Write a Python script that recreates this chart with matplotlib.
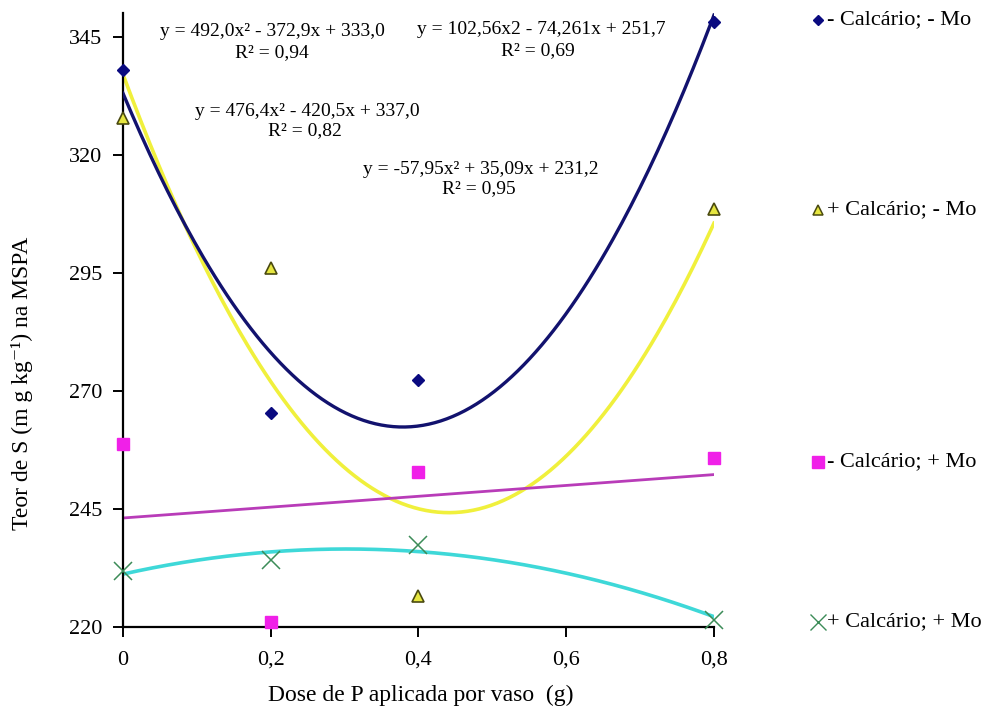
import numpy as np
import matplotlib
matplotlib.use("Agg")
import matplotlib.pyplot as plt

plt.rcParams['font.family'] = ['Liberation Serif', 'DejaVu Serif']

# doses de P (g por vaso)
dose = [0, 0.2, 0.4, 0.8]

# teor de S (mg kg-1) em cada tratamento
s_menos_cal_menos_mo = [338.0, 265.3, 272.3, 348.0]
s_mais_cal_menos_mo = [327.8, 296.0, 226.6, 308.6]
s_menos_cal_mais_mo = [258.8, 221.0, 252.8, 255.8]
s_mais_cal_mais_mo = [231.9, 234.1, 237.3, 221.5]

# coeficientes das equações de regressão (a, b, c)
coef_azul = [492.0, -372.9, 333.0]
coef_amarelo = [476.4, -420.5, 337.0]
coef_ciano = [-57.95, 35.09, 231.2]

rotulos = ["- Calcário; - Mo", "+ Calcário; - Mo",
           "- Calcário; + Mo", "+ Calcário; + Mo"]
yticks = [220, 245, 270, 295, 320, 345]
xticks = [0, 0.2, 0.4, 0.6, 0.8]

fig = plt.figure(figsize=(10.05, 7.12), dpi=100)
ax = fig.add_axes([0.1224, 0.1194, 0.588, 0.8623])

xx = np.linspace(0, 0.8, 200)
ax.plot(xx, np.polyval(coef_amarelo, xx), color='#f0f03c', lw=2.6, zorder=2)
ax.plot(xx, np.polyval(coef_azul, xx), color='#12126e', lw=2.4, zorder=3)
lin = np.polyfit(dose, s_menos_cal_mais_mo, 1)
ax.plot(xx, np.polyval(lin, xx), color='#b83cb8', lw=2.0, zorder=2)
ax.plot(xx, np.polyval(coef_ciano, xx), color='#3ed8d8', lw=2.6, zorder=2)

ax.plot(dose, s_menos_cal_menos_mo, 'D', color='#0a0a80', ms=6.5, ls='none', zorder=4, clip_on=False)
ax.plot(dose, s_mais_cal_menos_mo, '^', mfc='#e6e640', mec='#4a4a10', mew=1.2, ms=8, ls='none', zorder=4, clip_on=False)
ax.plot(dose, s_menos_cal_mais_mo, 's', color='#f020e8', ms=9, ls='none', zorder=4, clip_on=False)
ax.plot(dose, s_mais_cal_mais_mo, 'x', color='#3c8c58', ms=13, mew=1.1, ls='none', zorder=4, clip_on=False)

ax.set_xlim(0, 0.8)
ax.set_ylim(220, 350)
ax.set_xticks(xticks)
ax.set_xticklabels([("%g" % t).replace('.', ',') for t in xticks])
ax.set_yticks(yticks)
for s in ['top', 'right']:
    ax.spines[s].set_visible(False)
for s in ['left', 'bottom']:
    ax.spines[s].set_linewidth(1.6)
ax.tick_params(axis='both', direction='out', length=7, width=1.4, labelsize=16)
ax.tick_params(axis='x', pad=10)
ax.tick_params(axis='y', pad=8)

ax.set_xlabel("Dose de P aplicada por vaso  (g)", fontsize=17, va='center')
ax.set_ylabel("Teor de S (m g kg⁻¹) na MSPA", fontsize=17, va='center')
ax.xaxis.set_label_coords(0.503, -0.111)
ax.yaxis.set_label_coords(-0.171, 0.397)

# equações das curvas
eq = dict(fontsize=14, ha='center', va='center', transform=fig.transFigure)
fig.text(272 / 1005, 1 - 31 / 712, "y = 492,0x² - 372,9x + 333,0", **eq)
fig.text(272 / 1005, 1 - 53 / 712, "R² = 0,94", **eq)
fig.text(307 / 1005, 1 - 111 / 712, "y = 476,4x² - 420,5x + 337,0", **eq)
fig.text(305 / 1005, 1 - 131 / 712, "R² = 0,82", **eq)
fig.text(541 / 1005, 1 - 30 / 712, "y = 102,56x2 - 74,261x + 251,7", **eq)
fig.text(538 / 1005, 1 - 51 / 712, "R² = 0,69", **eq)
fig.text(481 / 1005, 1 - 170 / 712, "y = -57,95x² + 35,09x + 231,2", **eq)
fig.text(479 / 1005, 1 - 189 / 712, "R² = 0,95", **eq)

# legenda manual à direita
leg_y = [1 - 20 / 712, 1 - 210 / 712, 1 - 462 / 712, 1 - 622 / 712]
estilos = [dict(marker='D', color='#0a0a80', ms=5.5),
           dict(marker='^', mfc='#e6e640', mec='#4a4a10', mew=1.1, ms=7),
           dict(marker='s', color='#f020e8', ms=9),
           dict(marker='x', color='#3c8c58', ms=12, mew=1.0)]
for yy, st, txt in zip(leg_y, estilos, rotulos):
    fig.add_artist(plt.Line2D([818 / 1005], [yy], ls='none', transform=fig.transFigure, **st))
    fig.text(827 / 1005, yy, txt, fontsize=16, va='center', ha='left')

fig.savefig("out.png", dpi=100)
